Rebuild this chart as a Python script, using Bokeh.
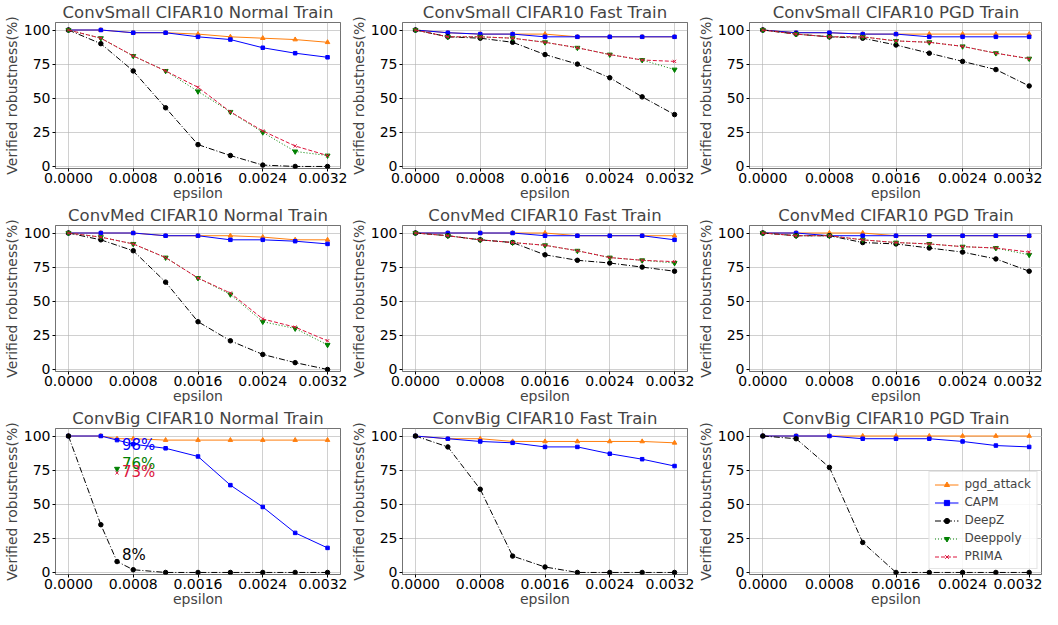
from bokeh.plotting import figure
from bokeh.layouts import gridplot
from bokeh.models import FixedTicker, NumeralTickFormatter, Range1d, Legend, LegendItem, ColumnDataSource
from bokeh.core.properties import value
from bokeh.embed import file_html
from bokeh.resources import INLINE

NAN = float("nan")

# ---------------- data ----------------
EPS = [0.0, 0.0004, 0.0008, 0.0012, 0.0016, 0.0020, 0.0024, 0.0028, 0.0032]
EPS_BIG_NORMAL = [0.0, 0.0004, 0.0006, 0.0008, 0.0012, 0.0016, 0.0020, 0.0024, 0.0028, 0.0032]
EPS_SINGLE = [0.0006]

SERIES = ["pgd_attack", "CAPM", "DeepZ", "Deeppoly", "PRIMA"]
X_TICKS = [0.0, 0.0008, 0.0016, 0.0024, 0.0032]
Y_TICKS = [0, 25, 50, 75, 100]

# ConvSmall
SMALL_NORMAL_PGD = [100, 100, 98, 98, 97, 95, 94, 93, 91]
SMALL_NORMAL_CAPM = [100, 100, 98, 98, 95, 93, 87, 83, 80]
SMALL_NORMAL_DEEPZ = [100, 90, 70, 43, 16, 8, 1, 0, 0]
SMALL_NORMAL_DEEPPOLY = [100, 94, 81, 70, 55, 40, 25, 11, 8]
SMALL_NORMAL_PRIMA = [100, 94, 81, 70, 58, 40, 26, 15, 8]

SMALL_FAST_PGD = [100, 98, 97, 97, 97, 95, 95, 95, 95]
SMALL_FAST_CAPM = [100, 98, 97, 97, 95, 95, 95, 95, 95]
SMALL_FAST_DEEPZ = [100, 95, 94, 91, 82, 75, 65, 51, 38]
SMALL_FAST_DEEPPOLY = [100, 95, 95, 94, 91, 87, 82, 78, 71]
SMALL_FAST_PRIMA = [100, 95, 95, 94, 91, 87, 82, 78, 77]

SMALL_PGDT_PGD = [100, 98, 98, 97, 97, 97, 97, 97, 97]
SMALL_PGDT_CAPM = [100, 98, 98, 97, 97, 95, 95, 95, 95]
SMALL_PGDT_DEEPZ = [100, 97, 95, 94, 89, 83, 77, 71, 59]
SMALL_PGDT_DEEPPOLY = [100, 97, 95, 95, 92, 91, 88, 83, 79]
SMALL_PGDT_PRIMA = [100, 97, 95, 95, 92, 91, 88, 83, 79]

# ConvMed
MED_NORMAL_PGD = [100, 100, 100, 98, 98, 98, 97, 95, 95]
MED_NORMAL_CAPM = [100, 100, 100, 98, 98, 95, 95, 94, 92]
MED_NORMAL_DEEPZ = [100, 95, 87, 64, 35, 21, 11, 5, 0]
MED_NORMAL_DEEPPOLY = [100, 97, 92, 82, 67, 55, 35, 30, 18]
MED_NORMAL_PRIMA = [100, 97, 92, 82, 67, 56, 37, 31, 21]

MED_FAST_PGD = [100, 100, 100, 100, 100, 98, 98, 98, 98]
MED_FAST_CAPM = [100, 100, 100, 100, 98, 98, 98, 98, 95]
MED_FAST_DEEPZ = [100, 98, 95, 93, 84, 80, 78, 75, 72]
MED_FAST_DEEPPOLY = [100, 98, 95, 93, 91, 87, 82, 80, 78]
MED_FAST_PRIMA = [100, 98, 95, 93, 91, 87, 82, 80, 79]

MED_PGDT_PGD = [100, 100, 100, 100, 98, 98, 98, 98, 98]
MED_PGDT_CAPM = [100, 100, 98, 98, 98, 98, 98, 98, 98]
MED_PGDT_DEEPZ = [100, 98, 98, 93, 92, 89, 86, 81, 72]
MED_PGDT_DEEPPOLY = [100, 98, 98, 95, 93, 92, 90, 89, 84]
MED_PGDT_PRIMA = [100, 98, 98, 95, 93, 92, 90, 89, 86]

# ConvBig
BIG_NORMAL_PGD = [100, 100, 98, 98, 97, 97, 97, 97, 97, 97]
BIG_NORMAL_CAPM = [100, 100, 97, 94, 91, 85, 64, 48, 29, 18]
BIG_NORMAL_DEEPZ = [100, 35, 8, 2, 0, 0, 0, 0, 0, 0]
BIG_NORMAL_DEEPPOLY = [76]
BIG_NORMAL_PRIMA = [73]

BIG_FAST_PGD = [100, 98, 98, 96, 96, 96, 96, 96, 95]
BIG_FAST_CAPM = [100, 98, 96, 95, 92, 92, 87, 83, 78]
BIG_FAST_DEEPZ = [100, 92, 61, 12, 4, 0, 0, 0, 0]

BIG_PGDT_PGD = [100, 100, 100, 100, 100, 100, 100, 100, 100]
BIG_PGDT_CAPM = [100, 100, 100, 98, 98, 98, 96, 93, 92]
BIG_PGDT_DEEPZ = [100, 98, 77, 22, 0, 0, 0, 0, 0]

# no data for these series (kept only for the legend)
EMPTY_X = [NAN]
EMPTY_Y = [NAN]

# annotations in ConvBig Normal
ANN_TEXT = ["98%", "76%", "73%", "8%"]
ANN_X = [0.00066, 0.00066, 0.00066, 0.00066]
ANN_Y = [93.5, 79.5, 73.5, 12.8]
ANN_SERIES = ["CAPM", "Deeppoly", "PRIMA", "DeepZ"]

TITLES = [
    "ConvSmall CIFAR10 Normal Train", "ConvSmall CIFAR10 Fast Train", "ConvSmall CIFAR10 PGD Train",
    "ConvMed CIFAR10 Normal Train", "ConvMed CIFAR10 Fast Train", "ConvMed CIFAR10 PGD Train",
    "ConvBig CIFAR10 Normal Train", "ConvBig CIFAR10 Fast Train", "ConvBig CIFAR10 PGD Train",
]

PANELS = [
    {"pgd_attack": (EPS, SMALL_NORMAL_PGD), "CAPM": (EPS, SMALL_NORMAL_CAPM), "DeepZ": (EPS, SMALL_NORMAL_DEEPZ),
     "Deeppoly": (EPS, SMALL_NORMAL_DEEPPOLY), "PRIMA": (EPS, SMALL_NORMAL_PRIMA)},
    {"pgd_attack": (EPS, SMALL_FAST_PGD), "CAPM": (EPS, SMALL_FAST_CAPM), "DeepZ": (EPS, SMALL_FAST_DEEPZ),
     "Deeppoly": (EPS, SMALL_FAST_DEEPPOLY), "PRIMA": (EPS, SMALL_FAST_PRIMA)},
    {"pgd_attack": (EPS, SMALL_PGDT_PGD), "CAPM": (EPS, SMALL_PGDT_CAPM), "DeepZ": (EPS, SMALL_PGDT_DEEPZ),
     "Deeppoly": (EPS, SMALL_PGDT_DEEPPOLY), "PRIMA": (EPS, SMALL_PGDT_PRIMA)},
    {"pgd_attack": (EPS, MED_NORMAL_PGD), "CAPM": (EPS, MED_NORMAL_CAPM), "DeepZ": (EPS, MED_NORMAL_DEEPZ),
     "Deeppoly": (EPS, MED_NORMAL_DEEPPOLY), "PRIMA": (EPS, MED_NORMAL_PRIMA)},
    {"pgd_attack": (EPS, MED_FAST_PGD), "CAPM": (EPS, MED_FAST_CAPM), "DeepZ": (EPS, MED_FAST_DEEPZ),
     "Deeppoly": (EPS, MED_FAST_DEEPPOLY), "PRIMA": (EPS, MED_FAST_PRIMA)},
    {"pgd_attack": (EPS, MED_PGDT_PGD), "CAPM": (EPS, MED_PGDT_CAPM), "DeepZ": (EPS, MED_PGDT_DEEPZ),
     "Deeppoly": (EPS, MED_PGDT_DEEPPOLY), "PRIMA": (EPS, MED_PGDT_PRIMA)},
    {"pgd_attack": (EPS_BIG_NORMAL, BIG_NORMAL_PGD), "CAPM": (EPS_BIG_NORMAL, BIG_NORMAL_CAPM),
     "DeepZ": (EPS_BIG_NORMAL, BIG_NORMAL_DEEPZ),
     "Deeppoly": (EPS_SINGLE, BIG_NORMAL_DEEPPOLY), "PRIMA": (EPS_SINGLE, BIG_NORMAL_PRIMA)},
    {"pgd_attack": (EPS, BIG_FAST_PGD), "CAPM": (EPS, BIG_FAST_CAPM), "DeepZ": (EPS, BIG_FAST_DEEPZ),
     "Deeppoly": (EMPTY_X, EMPTY_Y), "PRIMA": (EMPTY_X, EMPTY_Y)},
    {"pgd_attack": (EPS, BIG_PGDT_PGD), "CAPM": (EPS, BIG_PGDT_CAPM), "DeepZ": (EPS, BIG_PGDT_DEEPZ),
     "Deeppoly": (EMPTY_X, EMPTY_Y), "PRIMA": (EMPTY_X, EMPTY_Y)},
]

# ---------------- styles ----------------
COLORS = {"pgd_attack": "#ff7f0e", "CAPM": "#0000ff", "DeepZ": "#000000", "Deeppoly": "#008000", "PRIMA": "#dc143c"}
DASHES = {"pgd_attack": "solid", "CAPM": "solid", "DeepZ": "6 2 1 2", "Deeppoly": "1 2", "PRIMA": "4 2"}
MARKERS = {"pgd_attack": "triangle", "CAPM": "square", "DeepZ": "circle", "Deeppoly": "inverted_triangle", "PRIMA": "x"}
MSIZE = {"pgd_attack": 4.5, "CAPM": 3.5, "DeepZ": 4.5, "Deeppoly": 5, "PRIMA": 4.5}

FONT = "DejaVu Sans"
WIDTHS = [347, 347, 348]
RIGHT_BORDER = [7, 7, 0]
HEIGHT = 203

figs = []
for i, title in enumerate(TITLES):
    col = i % 3
    p = figure(width=WIDTHS[col], height=HEIGHT, output_backend="svg", toolbar_location=None,
               x_range=Range1d(-0.00016, 0.00336), y_range=Range1d(-1.5, 105.5),
               min_border_left=48, min_border_right=RIGHT_BORDER[col], min_border_top=0, min_border_bottom=0)
    p.title.text = title
    p.title.text_font = FONT
    p.title.text_font_size = "16.5px"
    p.title.text_font_style = "normal"
    p.title.align = "center"
    p.title.standoff = 1
    p.title.offset = 0

    p.xaxis.ticker = FixedTicker(ticks=X_TICKS)
    p.xaxis.formatter = NumeralTickFormatter(format="0.0000")
    p.yaxis.ticker = FixedTicker(ticks=Y_TICKS)
    p.xaxis.axis_label = "epsilon"
    p.yaxis.axis_label = "Verified robustness(%)"
    for ax in (p.xaxis[0], p.yaxis[0]):
        ax.axis_label_text_font = FONT
        ax.axis_label_text_font_size = "14px"
        ax.axis_label_text_font_style = "normal"
        ax.major_label_text_font = FONT
        ax.major_label_text_font_size = "14px"
        ax.major_label_text_color = "#000000"
        ax.major_tick_in = 0
        ax.major_tick_out = 3
        ax.minor_tick_in = 0
        ax.minor_tick_out = 0
        ax.axis_line_color = None
        ax.major_tick_line_color = "#000000"
    p.xaxis.major_label_standoff = 1
    p.xaxis.axis_label_standoff = -1
    p.yaxis.major_label_standoff = 2
    p.yaxis.axis_label_standoff = 1
    p.grid.grid_line_color = "#b0b0b0"
    p.grid.grid_line_alpha = 0.6
    p.grid.grid_line_width = 1
    p.outline_line_color = "#000000"
    p.outline_line_alpha = 0.55
    p.outline_line_width = 1
    p.background_fill_color = "white"
    p.border_fill_color = "white"

    items = []
    for s in SERIES:
        xs, ys = PANELS[i][s]
        src = ColumnDataSource(data=dict(x=list(xs), y=list(ys)))
        rl = p.line("x", "y", source=src, line_color=COLORS[s], line_width=1, line_dash=DASHES[s])
        rs = p.scatter("x", "y", source=src, marker=MARKERS[s], size=MSIZE[s],
                       fill_color=COLORS[s], line_color=COLORS[s], line_width=1)
        items.append(LegendItem(label=s, renderers=[rl, rs]))

    if i == 6:
        src = ColumnDataSource(data=dict(x=ANN_X, y=ANN_Y, t=ANN_TEXT,
                                         c=[COLORS[s] for s in ANN_SERIES]))
        p.text("x", "y", text="t", source=src, text_color="c", text_font=value(FONT),
               text_font_size="15px", text_align="left", text_baseline="middle")

    if i == 8:
        leg = Legend(items=items, location="bottom_right")
        leg.label_text_font = FONT
        leg.label_text_font_size = "12px"
        leg.glyph_height = 13
        leg.glyph_width = 24
        leg.label_height = 13
        leg.spacing = 4
        leg.padding = 5
        leg.margin = 5
        leg.label_standoff = 6
        leg.border_line_color = "#cccccc"
        leg.border_line_width = 1
        leg.background_fill_alpha = 0.85
        p.add_layout(leg)
    figs.append(p)

grid = gridplot(figs, ncols=3, toolbar_location=None)
open("out.html", "w").write(file_html(grid, INLINE))
